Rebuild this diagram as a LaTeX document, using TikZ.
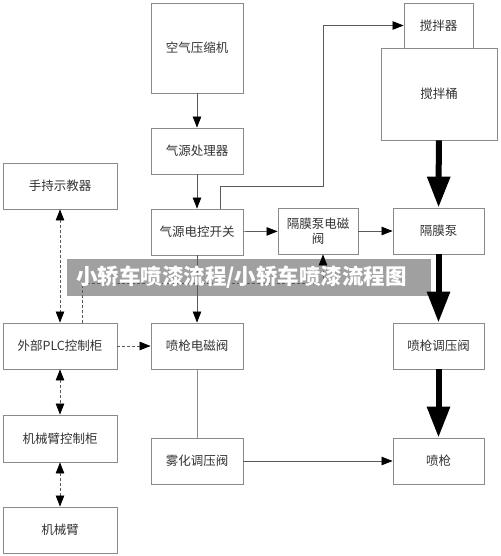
\documentclass[tikz,border=0pt]{standalone}
\usepackage{fontspec}
\setmainfont{Noto Sans CJK SC}
\usetikzlibrary{arrows.meta}
\definecolor{boxc}{HTML}{8A8A8A}
\definecolor{linec}{HTML}{5A5A5A}
\definecolor{txtc}{HTML}{333333}
\definecolor{bannerc}{HTML}{A0A0A0}
\tikzset{
  tip/.tip={Triangle[length=11pt,width=8.5pt,color=black,fill=black]},
  box/.style={draw=boxc, line width=0.9pt, inner sep=0pt, align=center, text=txtc, font=\fontsize{12.5}{15}\selectfont},
  flow/.style={draw=linec, line width=0.7pt, -tip},
  plain/.style={draw=linec!70, line width=0.7pt},
  ctrl/.style={draw=linec, line width=0.7pt, dash pattern=on 3pt off 2pt},
  ctrlarr/.style={ctrl, -tip},
  ctrlboth/.style={ctrl, tip-tip},
  thick flow/.style={draw=black, line width=6pt, -{Triangle[length=31pt,width=22pt]}},
}
\begin{document}
\begin{tikzpicture}[x=1pt,y=-1pt]
\useasboundingbox (0,0) rectangle (500,556);
% banner background
\fill[bannerc] (67,259) rectangle (431,296);
% nodes
\node[box, minimum width=92pt, minimum height=90pt] (comp) at (197,48) {空气压缩机};
\node[box, minimum width=92pt, minimum height=46pt] (proc) at (197,151) {气源处理器};
\node[box, minimum width=114pt, minimum height=46pt] (teach) at (60,186) {手持示教器};
\node[box, minimum width=92pt, minimum height=46pt] (sw) at (197,232) {气源电控开关};
\node[box, minimum width=69pt, minimum height=45pt] (mixer) at (438.5,25.5) {搅拌器};
\node[box, minimum width=116pt, minimum height=92pt] (tank) at (439,94) {搅拌桶};
\node[box, minimum width=80pt, minimum height=46pt] (mv) at (318,231) {隔膜泵电磁\\阀};
\node[box, minimum width=91pt, minimum height=46pt] (pump) at (438.5,231) {隔膜泵};
\node[box, minimum width=114pt, minimum height=46pt] (plc) at (60,346) {外部PLC控制柜};
\node[box, minimum width=92pt, minimum height=46pt] (gv) at (197,346) {喷枪电磁阀};
\node[box, minimum width=114pt, minimum height=47pt] (armc) at (60,438.5) {机械臂控制柜};
\node[box, minimum width=92pt, minimum height=46pt] (atom) at (197,461) {雾化调压阀};
\node[box, minimum width=114pt, minimum height=46pt] (arm) at (60,530) {机械臂};
\node[box, minimum width=91pt, minimum height=46pt] (gr) at (438.5,346) {喷枪调压阀};
\node[box, minimum width=91pt, minimum height=46pt] (gun) at (438.5,461) {喷枪};
% air line
\draw[flow] (comp) -- (proc);
\draw[flow] (proc) -- (sw);
\draw[flow] (sw) -- (mv);
\draw[flow] (mv) -- (pump);
\draw[flow] ([xshift=23pt]sw.north) |- (323,186) |- (mixer.west);
\draw[flow] (sw) -- (gv);
\draw[plain] (gv) -- (atom);
\draw[flow] (atom) -- (gun);
% paint line
\draw[thick flow] (tank) -- (pump);
\draw[thick flow] (pump) -- (gr);
\draw[thick flow] (gr) -- (gun);
% control
\draw[ctrlboth] (teach) -- (plc);
\draw[ctrlboth] (plc) -- (armc);
\draw[ctrlboth] (armc) -- (arm);
\draw[ctrlarr] (plc) -- (gv);
\draw[ctrlarr] ([xshift=22pt]plc.north) |- (323,283) -- ([xshift=5pt]mv.south);
% banner text
\node[anchor=west, text=white, font=\fontsize{21.5}{24}\bfseries\selectfont, inner sep=0pt] (banner) at (76,277) {小轿车喷漆流程/小轿车喷漆流程图};
\end{tikzpicture}
\end{document}
